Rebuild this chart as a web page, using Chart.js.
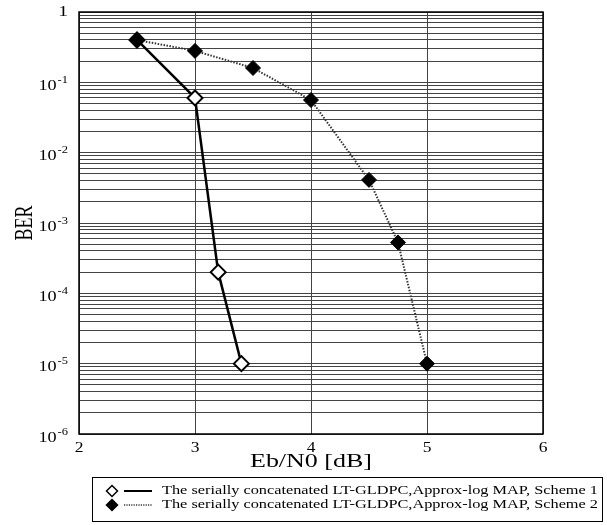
<!DOCTYPE html>
<html><head><meta charset="utf-8">
<script src="https://cdn.jsdelivr.net/npm/chart.js@4/dist/chart.umd.min.js"></script>
<style>html,body{margin:0;padding:0;background:#fff;overflow:hidden}#wrap{position:relative;width:607px;height:525px}</style>
</head><body><div id="wrap"><canvas id="c" width="607" height="525"></canvas></div>
<script>
// ---- data ----
const scheme1Label = 'The serially concatenated LT-GLDPC,Approx-log MAP, Scheme 1';
const scheme2Label = 'The serially concatenated LT-GLDPC,Approx-log MAP, Scheme 2';
const scheme1X = [2.5, 3, 3.2, 3.4];
const scheme1Y = [0.4, 0.06, 2e-4, 1e-5];
const scheme2X = [2.5, 3, 3.5, 4, 4.5, 4.75, 5];
const scheme2Y = [0.4, 0.28, 0.16, 0.056, 0.0041, 5.3e-4, 1e-5];
const xTickValues = [2, 3, 4, 5, 6];
const yDecadeExponents = [0, -1, -2, -3, -4, -5, -6];
const yMinorMantissas = [1, 2, 3, 4, 5, 6, 7, 8, 9];
const xTitle = 'Eb/N0 [dB]';
const yTitle = 'BER';

const FONT = '"Liberation Serif", "Times New Roman", serif';

function txtFit(ctx, s, x, y, size, align, sx) {
  ctx.save();
  ctx.font = size + 'px ' + FONT;
  ctx.textBaseline = 'middle';
  ctx.textAlign = 'left';
  const w = ctx.measureText(s).width * sx;
  const x0 = align === 'center' ? x - w / 2 : align === 'right' ? x - w : x;
  ctx.translate(x0, y);
  ctx.scale(sx, 1);
  ctx.fillStyle = '#000';
  ctx.fillText(s, 0, 0);
  ctx.restore();
  return w;
}
function txtWidth(ctx, s, x, y, size, align, targetW) {
  ctx.save();
  ctx.font = size + 'px ' + FONT;
  const m = ctx.measureText(s).width;
  ctx.restore();
  return txtFit(ctx, s, x, y, size, align, targetW / m);
}
function diamond(ctx, x, y, r, filled) {
  ctx.save();
  ctx.beginPath();
  ctx.moveTo(x, y - r); ctx.lineTo(x + r, y); ctx.lineTo(x, y + r); ctx.lineTo(x - r, y); ctx.closePath();
  ctx.fillStyle = filled ? '#000' : '#fff';
  ctx.fill();
  ctx.lineWidth = 1.5; ctx.strokeStyle = '#000'; ctx.stroke();
  ctx.restore();
}

const textPlugin = {
  id: 'textPlugin',
  afterDraw(chart) {
    const ctx = chart.ctx;
    const a = chart.chartArea;
    const xs = chart.scales.x, ys = chart.scales.y;
    // frame
    ctx.save();
    ctx.strokeStyle = '#000'; ctx.lineWidth = 1.5;
    ctx.strokeRect(a.left, a.top, a.right - a.left, a.bottom - a.top);
    ctx.restore();
    // y tick labels
    yDecadeExponents.forEach(e => {
      const py = ys.getPixelForValue(Math.pow(10, e));
      if (e === 0) {
        txtFit(ctx, '1', 68, py, 15, 'right', 1.3);
      } else {
        const sw = txtFit(ctx, String(e), 68, py - 2, 10, 'right', 1.25);
        txtFit(ctx, '10', 68 - sw - 1, py + 4, 14, 'right', 1.3);
      }
    });
    // x tick labels
    xTickValues.forEach(v => {
      txtFit(ctx, String(v), xs.getPixelForValue(v), 448, 14, 'center', 1.25);
    });
    // x title
    txtWidth(ctx, xTitle, 311, 462, 18, 'center', 122);
    // y title
    ctx.save();
    ctx.translate(25, 223);
    ctx.rotate(-Math.PI / 2);
    ctx.scale(1, 1.4);
    ctx.font = '18px ' + FONT;
    ctx.textAlign = 'center'; ctx.textBaseline = 'middle'; ctx.fillStyle = '#000';
    ctx.fillText(yTitle, 0, 0);
    ctx.restore();
    // legend
    ctx.save();
    ctx.strokeStyle = '#000'; ctx.lineWidth = 1;
    ctx.strokeRect(92.5, 477.5, 510, 44);
    ctx.restore();
    const rows = [
      {label: scheme1Label, y: 491, filled: false, dash: [], w: 2, color: '#000'},
      {label: scheme2Label, y: 505, filled: true, dash: [1.2, 1.2], w: 1.5, color: '#333'}
    ];
    rows.forEach(r => {
      diamond(ctx, 112, r.y, 5.5, r.filled);
      ctx.save();
      ctx.strokeStyle = r.color; ctx.lineWidth = r.w; ctx.setLineDash(r.dash);
      ctx.beginPath(); ctx.moveTo(124, r.y); ctx.lineTo(152, r.y); ctx.stroke();
      ctx.restore();
      txtWidth(ctx, r.label, 162, r.y, 12.5, 'left', 436);
    });
  }
};

new Chart(document.getElementById('c'), {
  type: 'line',
  data: {
    datasets: [
      {
        label: scheme1Label,
        data: scheme1X.map((x, i) => ({x: x, y: scheme1Y[i]})),
        borderColor: '#000', borderWidth: 2.5,
        pointStyle: 'rectRot', pointRadius: 7.5,
        pointBackgroundColor: '#fff', pointBorderColor: '#000', pointBorderWidth: 2,
        tension: 0, order: 1
      },
      {
        label: scheme2Label,
        data: scheme2X.map((x, i) => ({x: x, y: scheme2Y[i]})),
        borderColor: '#333', borderWidth: 2, borderDash: [1.5, 1.5],
        pointStyle: 'rectRot', pointRadius: 7.5,
        pointBackgroundColor: '#000', pointBorderColor: '#000', pointBorderWidth: 1,
        tension: 0, order: 0
      }
    ]
  },
  options: {
    responsive: false, animation: false, devicePixelRatio: 1,
    layout: {padding: {left: 0, right: 64, top: 12, bottom: 0}},
    plugins: {legend: {display: false}, tooltip: {enabled: false}},
    scales: {
      x: {
        type: 'linear', min: 2, max: 6,
        afterBuildTicks: s => { s.ticks = xTickValues.map(v => ({value: v})); },
        afterFit: s => { s.height = 91; },
        ticks: {display: false},
        grid: {color: '#444', lineWidth: 1, drawTicks: false},
        border: {display: false}
      },
      y: {
        type: 'logarithmic', min: 1e-6, max: 1,
        afterBuildTicks: s => {
          const t = [];
          yDecadeExponents.slice().reverse().forEach(e => {
            yMinorMantissas.forEach(m => {
              const v = m * Math.pow(10, e);
              if (v <= 1) t.push({value: v});
            });
          });
          s.ticks = t;
        },
        afterFit: s => { s.width = 79; },
        ticks: {display: false},
        grid: {color: '#444', lineWidth: 1, drawTicks: false},
        border: {display: false}
      }
    }
  },
  plugins: [textPlugin]
});
</script></body></html>
